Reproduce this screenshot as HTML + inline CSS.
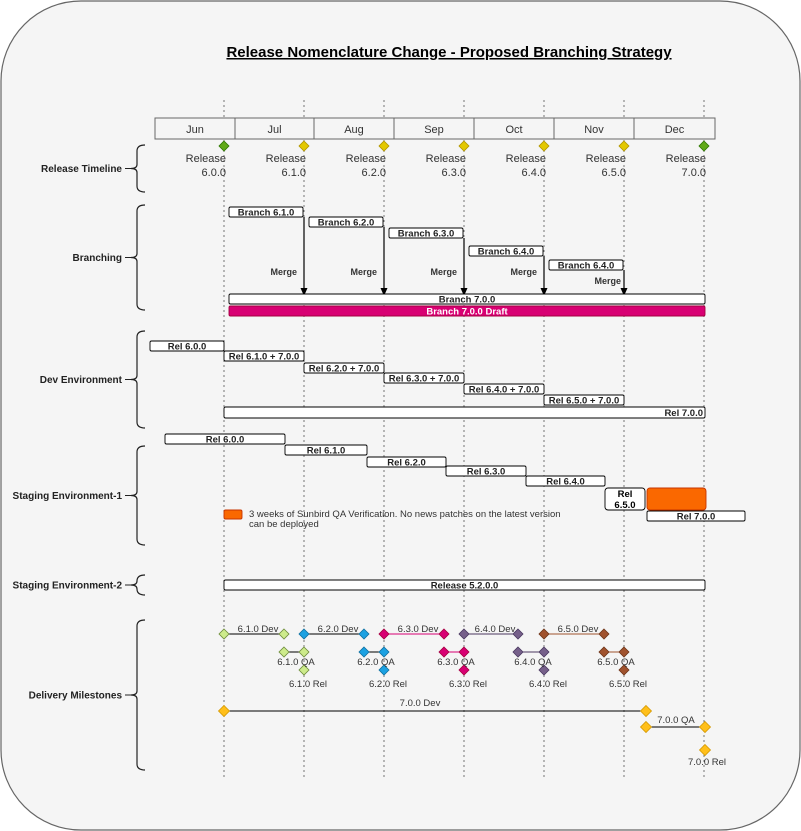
<!DOCTYPE html>
<html><head><meta charset="utf-8"><style>
body{margin:0;background:#fff}
svg{display:block;font-family:"Liberation Sans",Arial,sans-serif}
</style></head><body>
<svg id="c" width="801" height="831" viewBox="0 0 801 831" xmlns="http://www.w3.org/2000/svg">
<rect x="1" y="1" width="799" height="829" rx="80" fill="#f5f5f5" stroke="#666" stroke-width="1.2"/>
<text x="449" y="57" text-anchor="middle" font-size="15" font-weight="bold" text-decoration="underline">Release Nomenclature Change - Proposed Branching Strategy </text>
<g id="g"></g>
</svg>
<script>
const months=["Jun","Jul","Aug","Sep","Oct","Nov","Dec"];
const monthEdges=[155,235,314,394,474,554,634,715];
const releaseNames=["6.0.0","6.1.0","6.2.0","6.3.0","6.4.0","6.5.0","7.0.0"];
const releaseMajor=[true,false,false,false,false,false,true];
const sections=["Release Timeline","Branching","Dev Environment","Staging Environment-1","Staging Environment-2","Delivery Milestones"];
const sectionTop=[145,205,331,446,575,620];
const sectionBottom=[192,310,428,545,595,770];
const X=i=>224+i*80;
const NS="http://www.w3.org/2000/svg";
const g=document.getElementById('g');
function el(t,a,txt){const e=document.createElementNS(NS,t);for(const k in a)e.setAttribute(k,a[k]);if(txt!==undefined)e.textContent=txt;g.appendChild(e);return e;}
for(let i=0;i<7;i++){
const l=el('line',{x1:X(i),x2:X(i),y1:100,y2:780,stroke:'#555','stroke-dasharray':'2 3','stroke-width':0.8});


}
for(let i=0;i<months.length;i++){
const r=el('rect',{x:monthEdges[i],y:118,width:monthEdges[i+1]-monthEdges[i],height:21,fill:'#f5f5f5',stroke:'#666'});


const t=el('text',{x:(monthEdges[i]+monthEdges[i+1])/2,y:133,'text-anchor':'middle','font-size':11,fill:'#333'},months[i]);


}
function diamond(x,y,fill,stroke,s){const d=el('path',{d:`M${x} ${y-s}L${x+s} ${y}L${x} ${y+s}L${x-s} ${y}Z`,fill:fill,stroke:stroke,'stroke-width':0.8});return d;}
for(let i=0;i<releaseNames.length;i++){
const d=diamond(X(i),146,releaseMajor[i]?'#60a917':'#e3c800',releaseMajor[i]?'#2d7600':'#b09500',5);


const t1=el('text',{x:X(i)+2,y:162,'text-anchor':'end','font-size':11,fill:'#333'},'Release');


const t2=el('text',{x:X(i)+2,y:176,'text-anchor':'end','font-size':11,fill:'#333'},releaseNames[i]);


}
for(let i=0;i<sections.length;i++){
const a=sectionTop[i],b=sectionBottom[i],m=(a+b)/2;
const p=el('path',{d:`M145 ${a} Q137 ${a} 137 ${a+6} L137 ${m-4} Q137 ${m} 131 ${m} Q137 ${m} 137 ${m+4} L137 ${b-6} Q137 ${b} 145 ${b}`,fill:'none',stroke:'#222','stroke-width':1.2});


el('line',{x1:125,x2:131,y1:m,y2:m,stroke:'#222'});
const t=el('text',{x:122,y:m+3.5,'text-anchor':'end','font-size':10,'font-weight':'bold',fill:'#222'},sections[i]);


}
function box(x1,x2,y,h,label,name,opt){opt=opt||{};
const r=el('rect',{x:x1,y:y,width:x2-x1,height:h,rx:opt.rx||1.5,fill:opt.fill||'#fff',stroke:opt.stroke||'#000','stroke-width':0.9});


if(label){const tx=opt.align==='end'?x2-2:(x1+x2)/2;
const t=el('text',{x:tx,y:y+h/2+3.5,'text-anchor':opt.align==='end'?'end':'middle','font-size':9.5,'font-weight':'bold',fill:opt.color||'#222'},label);

}
}
const branchLabels=["Branch 6.1.0","Branch 6.2.0","Branch 6.3.0","Branch 6.4.0","Branch 6.4.0"];
const branchY=[207,217,228,246,260];
for(let i=0;i<branchLabels.length;i++){
box(X(i)+5,X(i+1)-1,branchY[i],10,branchLabels[i],'branch-box');
const a=el('line',{x1:X(i+1),x2:X(i+1),y1:branchY[i]+10,y2:290,stroke:'#000','stroke-width':1.2});


el('path',{d:`M${X(i+1)-3.5} 288L${X(i+1)+3.5} 288L${X(i+1)} 296Z`,fill:'#000'});
const last=i===4;
const t=el('text',{x:X(i+1)-(last?3:7),y:last?284:275,'text-anchor':'end','font-size':9,'font-weight':'bold',fill:'#333'},'Merge');


}
box(229,705,294,10,'Branch 7.0.0','branch-7-box');
box(229,705,306,10,'Branch 7.0.0 Draft','branch-7-draft-box',{fill:'#d80073',stroke:'#a50040',color:'#fff'});
box(150,224,341,10,'Rel 6.0.0','dev-rel-box');
const devLabels=["Rel 6.1.0 + 7.0.0","Rel 6.2.0 + 7.0.0","Rel 6.3.0 + 7.0.0","Rel 6.4.0 + 7.0.0","Rel 6.5.0 + 7.0.0"];
const devY=[351,363,373,384,395];
for(let i=0;i<devLabels.length;i++)box(X(i),X(i+1),devY[i],10,devLabels[i],'dev-rel-box');
box(224,705,407,11,'Rel 7.0.0','dev-rel-7-box',{align:'end'});
const stLabels=["Rel 6.0.0","Rel 6.1.0","Rel 6.2.0","Rel 6.3.0","Rel 6.4.0"];
const stX=[165,285,367,446,526,605];
const stY=[434,445,457,466,476];
for(let i=0;i<stLabels.length;i++)box(stX[i],stX[i+1],stY[i],10,stLabels[i],'staging-rel-box');
box(605,645,488,22,'','staging-rel-650-box',{rx:3});
el('text',{x:625,y:497,'text-anchor':'middle','font-size':9.5,'font-weight':'bold'},'Rel');
el('text',{x:625,y:508,'text-anchor':'middle','font-size':9.5,'font-weight':'bold'},'6.5.0');
box(647,706,488,22,'','qa-verification-block',{fill:'#fa6800',stroke:'#c73500',rx:3});
box(647,745,511,10,'Rel 7.0.0','staging-rel-7-box');
box(224,242,510,9,'','legend-swatch',{fill:'#fa6800',stroke:'#c73500'});
el('text',{x:249,y:517,'font-size':9.5,fill:'#333'},'3 weeks of Sunbird QA Verification. No news patches on the latest version');
el('text',{x:249,y:527,'font-size':9.5,fill:'#333'},'can be deployed');
box(224,705,580,10,'Release 5.2.0.0','staging2-release-box');
const msNames=["6.1.0","6.2.0","6.3.0","6.4.0","6.5.0"];
const msDevEnd=[284,364,444,518,604];
const msColor=["#cdeb8b","#1ba1e2","#d80073","#76608a","#a0522d"];
const msStroke=["#6d8b3b","#1070a0","#a50040","#4a3860","#6d3418"];
const msLine=["#000","#000","#d80073","#4a3860","#a0522d"];
for(let i=0;i<msNames.length;i++){
const s=X(i),r=X(i+1),c=msColor[i],k=msStroke[i];
el('line',{x1:s,x2:msDevEnd[i],y1:634,y2:634,stroke:msLine[i]});
el('line',{x1:msDevEnd[i],x2:r,y1:652,y2:652,stroke:msLine[i]});
[[s,634],[msDevEnd[i],634],[msDevEnd[i],652],[r,652],[r,670]].forEach(p=>{const d=diamond(p[0],p[1],c,k,5);

});
el('text',{x:(s+msDevEnd[i])/2+4,y:632,'text-anchor':'middle','font-size':9.5,fill:'#333'},msNames[i]+' Dev');
el('text',{x:(msDevEnd[i]+r)/2+2,y:665,'text-anchor':'middle','font-size':9.5,fill:'#333'},msNames[i]+' QA');
el('text',{x:r+4,y:687,'text-anchor':'middle','font-size':9.5,fill:'#333'},msNames[i]+' Rel');
}
el('line',{x1:224,x2:646,y1:711,y2:711,stroke:'#000'});
el('line',{x1:646,x2:705,y1:727,y2:727,stroke:'#000'});
[[224,711],[646,711],[646,727],[705,727],[705,750]].forEach(p=>{const d=diamond(p[0],p[1],'#ffbf1a','#d49800',5.5);

});
el('text',{x:420,y:706,'text-anchor':'middle','font-size':9.5,fill:'#333'},'7.0.0 Dev');
el('text',{x:676,y:723,'text-anchor':'middle','font-size':9.5,fill:'#333'},'7.0.0 QA');
el('text',{x:707,y:765,'text-anchor':'middle','font-size':9.5,fill:'#333'},'7.0.0 Rel');
</script>
</body></html>
